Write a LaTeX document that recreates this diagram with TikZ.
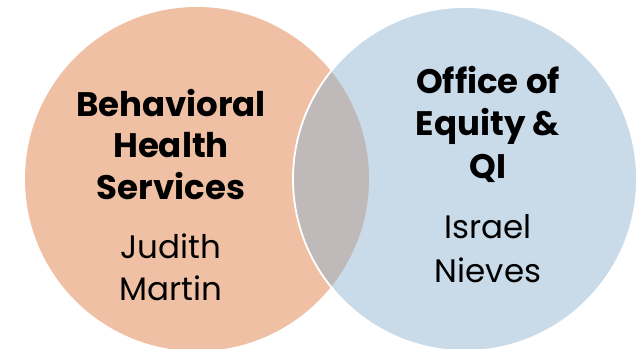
\documentclass[tikz,border=0pt]{standalone}
\usepackage{fontspec}
\setmainfont{Poppins}
\definecolor{orangefill}{RGB}{240,192,164}
\definecolor{bluefill}{RGB}{201,218,233}
\definecolor{lensfill}{RGB}{192,185,186}
\begin{document}
\begin{tikzpicture}[x=1pt,y=-1pt,
  titletext/.style={anchor=base,inner sep=0pt,font=\fontsize{34}{42}\selectfont\bfseries},
  nametext/.style={anchor=base,inner sep=0pt,font=\fontsize{32.5}{42}\selectfont}]
\useasboundingbox (0,0) rectangle (639,348);
\fill[white] (0,0) rectangle (639,348);
\coordinate (lc) at (197,179);
\coordinate (rc) at (465,179);
\fill[orangefill] (lc) circle[radius=172];
\fill[bluefill] (rc) circle[radius=172];
\begin{scope}
  \clip (lc) circle[radius=172];
  \fill[lensfill] (rc) circle[radius=172];
\end{scope}
\draw[white,line width=1.8pt] (rc) circle[radius=172];
\node[titletext] (t1) at (171,116) {Behavioral};
\node[titletext] (t2) at (171,157) {Health};
\node[titletext] (t3) at (171,199) {Services};
\node[nametext] (n1) at (171,258) {Judith};
\node[nametext] (n2) at (171,300) {Martin};
\node[titletext] (r1) at (488,93) {Office of};
\node[titletext] (r2) at (488,135) {Equity \&};
\node[titletext] (r3) at (488,178) {QI};
\node[nametext] (m1) at (488,238) {Israel};
\node[nametext] (m2) at (488,282) {Nieves};
\end{tikzpicture}
\end{document}
